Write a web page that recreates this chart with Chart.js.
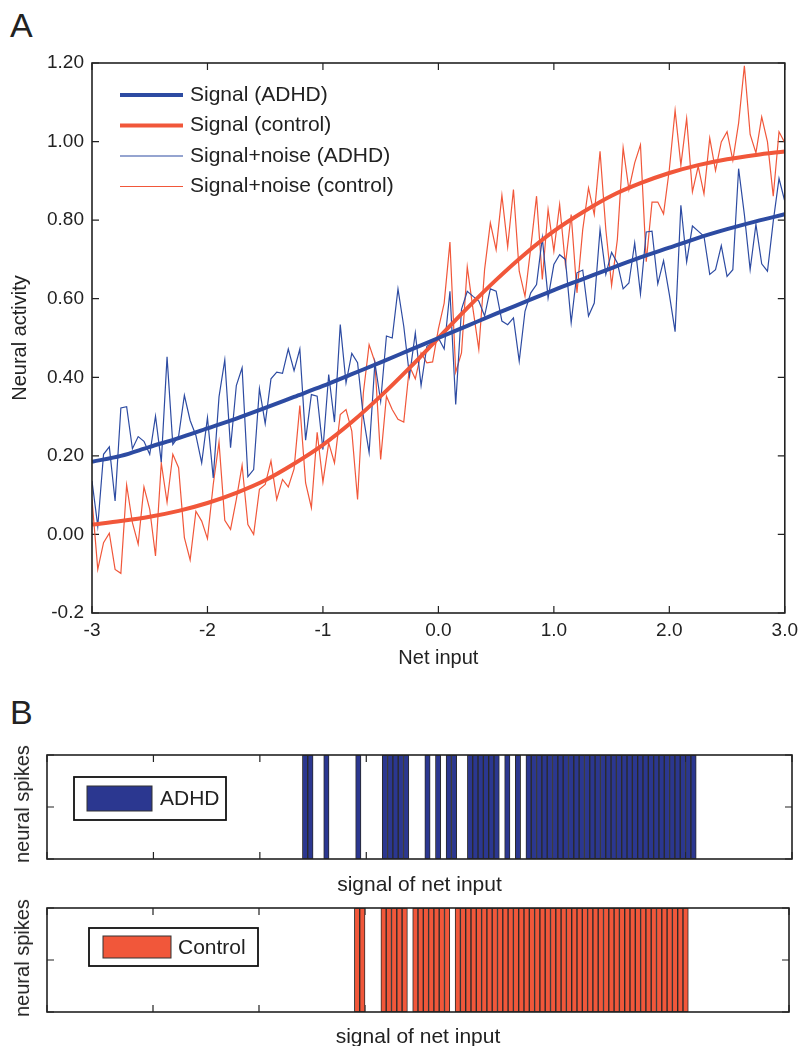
<!DOCTYPE html>
<html lang="en">
<head>
  <meta charset="UTF-8">
  <title>Neural activity and spikes</title>
  <script src="https://cdn.jsdelivr.net/npm/chart.js@4.4.1/dist/chart.umd.min.js"></script>
  <style>
    body {
      margin: 0;
      background: #fff;
      font-family: "Liberation Sans", Arial, sans-serif;
      color: #222;
    }
    .page {
      position: relative;
      width: 804px;
      height: 1046px;
      overflow: hidden;
    }
    .page canvas {
      position: absolute;
      left: 0;
    }
    .panel-label {
      position: absolute;
      left: 10px;
      font-size: 34px;
      line-height: 1;
    }
    .spike-label {
      position: absolute;
      left: 22px;
      font-size: 20px;
      line-height: 1;
      white-space: nowrap;
      transform: translate(-50%, -50%) rotate(-90deg);
    }
  </style>
</head>
<body>
  <div class="page">
    <div class="panel-label" style="top: 8px;">A</div>
    <div class="panel-label" style="top: 695px;">B</div>

    <canvas id="activity-chart" width="804" height="680" style="top: 0;"></canvas>

    <canvas id="adhd-spikes" width="804" height="160" style="top: 740px;"></canvas>
    <div class="spike-label" style="top: 804px;">neural spikes</div>

    <canvas id="control-spikes" width="804" height="155" style="top: 893px;"></canvas>
    <div class="spike-label" style="top: 958px;">neural spikes</div>
  </div>

  <script>
    // panel A: smooth signal, sampled every 0.25 from -3
    const SIGNAL_X_START = -3;
    const SIGNAL_X_STEP = 0.25;
    const SIGNAL_ADHD = [
      0.185, 0.200, 0.223, 0.245, 0.270, 0.295, 0.322, 0.350, 0.378, 0.408, 0.438, 0.469, 0.500,
      0.531, 0.562, 0.592, 0.622, 0.650, 0.678, 0.705, 0.730, 0.755, 0.777, 0.797, 0.815
    ];
    const SIGNAL_CONTROL = [
      0.025, 0.034, 0.045, 0.060, 0.080, 0.106, 0.138, 0.180, 0.228, 0.286, 0.352, 0.424, 0.500,
      0.576, 0.648, 0.714, 0.772, 0.820, 0.862, 0.894, 0.920, 0.940, 0.955, 0.966, 0.975
    ];

    // panel A: signal + noise, sampled every 0.05 from -3
    const NOISE_X_START = -3;
    const NOISE_X_STEP = 0.05;
    const NOISE_ADHD = [
      0.136, 0.021, 0.204, 0.223, 0.085, 0.322, 0.325, 0.218, 0.249, 0.237,
      0.204, 0.301, 0.184, 0.452, 0.229, 0.250, 0.354, 0.290, 0.252, 0.182,
      0.297, 0.144, 0.350, 0.444, 0.221, 0.379, 0.424, 0.147, 0.165, 0.371,
      0.282, 0.396, 0.413, 0.410, 0.472, 0.417, 0.472, 0.240, 0.356, 0.352,
      0.216, 0.407, 0.286, 0.534, 0.386, 0.461, 0.437, 0.300, 0.208, 0.437,
      0.339, 0.505, 0.500, 0.625, 0.530, 0.403, 0.513, 0.379, 0.479, 0.488,
      0.500, 0.472, 0.619, 0.331, 0.573, 0.619, 0.606, 0.594, 0.556, 0.625,
      0.619, 0.543, 0.534, 0.551, 0.441, 0.568, 0.615, 0.636, 0.755, 0.602,
      0.687, 0.712, 0.700, 0.539, 0.666, 0.673, 0.556, 0.589, 0.776, 0.662,
      0.718, 0.691, 0.625, 0.640, 0.742, 0.612, 0.770, 0.772, 0.638, 0.697,
      0.611, 0.516, 0.838, 0.694, 0.785, 0.772, 0.759, 0.662, 0.674, 0.735,
      0.657, 0.674, 0.931, 0.814, 0.674, 0.789, 0.689, 0.670, 0.797, 0.906,
      0.848
    ];
    const NOISE_CONTROL = [
      0.089, -0.089, -0.021, 0.003, -0.089, -0.099, 0.126, 0.030, -0.025, 0.121,
      0.064, -0.055, 0.182, 0.082, 0.204, 0.170, -0.008, -0.065, 0.059, 0.034,
      -0.011, 0.127, 0.235, 0.036, 0.013, 0.089, 0.176, 0.025, 0.000, 0.115,
      0.127, 0.187, 0.089, 0.140, 0.121, 0.167, 0.328, 0.131, 0.068, 0.260,
      0.133, 0.233, 0.182, 0.305, 0.318, 0.263, 0.089, 0.360, 0.483, 0.439,
      0.191, 0.352, 0.318, 0.293, 0.286, 0.428, 0.396, 0.462, 0.437, 0.439,
      0.523, 0.589, 0.744, 0.413, 0.462, 0.681, 0.573, 0.471, 0.674, 0.793,
      0.725, 0.863, 0.732, 0.878, 0.670, 0.606, 0.730, 0.861, 0.649, 0.827,
      0.721, 0.840, 0.687, 0.814, 0.615, 0.776, 0.882, 0.814, 0.975, 0.776,
      0.634, 0.751, 0.984, 0.878, 0.946, 0.992, 0.694, 0.846, 0.846, 0.816,
      0.929, 1.079, 0.940, 1.059, 0.872, 0.937, 0.867, 1.009, 0.926, 0.999,
      1.025, 0.952, 1.047, 1.193, 1.018, 0.971, 1.063, 0.999, 0.861, 1.025,
      0.997
    ];

    const SERIES_LABELS = ['Signal (ADHD)', 'Signal (control)', 'Signal+noise (ADHD)', 'Signal+noise (control)'];
    const X_TICK_LABELS = ['-3', '-2', '-1', '0.0', '1.0', '2.0', '3.0'];
    const Y_TICK_LABELS = ['-0.2', '0.00', '0.20', '0.40', '0.60', '0.80', '1.00', '1.20'];

    // panel B: spike bins (140 bins across the axis)
    const SPIKE_BIN_COUNT = 140;
    const ADHD_SPIKES = [
      48, 49, 52, 58, 63, 64, 65, 66, 67, 71, 73, 75, 76, 79, 80, 81, 82, 83, 84, 86, 88,
      90, 91, 92, 93, 94, 95, 96, 97, 98, 99, 100, 101, 102, 103, 104, 105,
      106, 107, 108, 109, 110, 111, 112, 113, 114, 115, 116, 117, 118, 119, 120, 121
    ];
    const CONTROL_SPIKES = [
      58, 59, 63, 64, 65, 66, 67, 69, 70, 71, 72, 73, 74, 75,
      77, 78, 79, 80, 81, 82, 83, 84, 85, 86, 87, 88, 89, 90, 91, 92, 93, 94, 95, 96, 97, 98,
      99, 100, 101, 102, 103, 104, 105, 106, 107, 108, 109, 110, 111, 112, 113, 114, 115, 116,
      117, 118, 119, 120
    ];

    const BLUE = '#2d4ba2';
    const RED = '#f1573a';
    const NAVY = '#2b3790';
    const INK = '#222';
    const FONT = '"Liberation Sans", Arial, sans-serif';

    Chart.defaults.font.family = FONT;
    Chart.defaults.color = INK;

    const toPoints = (values, start, step) => values.map((v, i) => ({ x: start + i * step, y: v }));
    const noGrid = { display: false, drawTicks: false, tickLength: 0 };

    // MATLAB-like box with inward ticks on all four sides
    const boxAxes = {
      id: 'boxAxes',
      beforeDatasetsDraw(chart, args, opts) {
        const { ctx, chartArea: a } = chart;
        const x = chart.scales.x;
        const y = chart.scales.y;
        const len = opts.tickLength;
        ctx.save();
        ctx.strokeStyle = INK;
        ctx.lineWidth = 1.2;
        ctx.beginPath();
        x.ticks.forEach((t, i) => {
          const px = x.getPixelForTick(i);
          ctx.moveTo(px, a.bottom);
          ctx.lineTo(px, a.bottom - len);
          ctx.moveTo(px, a.top);
          ctx.lineTo(px, a.top + len);
        });
        y.ticks.forEach((t, i) => {
          const py = y.getPixelForTick(i);
          ctx.moveTo(a.left, py);
          ctx.lineTo(a.left + len, py);
          ctx.moveTo(a.right, py);
          ctx.lineTo(a.right - len, py);
        });
        ctx.stroke();
        ctx.restore();
      },
      afterDatasetsDraw(chart) {
        const { ctx, chartArea: a } = chart;
        ctx.save();
        ctx.strokeStyle = INK;
        ctx.lineWidth = 1.6;
        ctx.strokeRect(a.left, a.top, a.right - a.left, a.bottom - a.top);
        ctx.restore();
      }
    };

    // legend drawn inside the plot area of panel A
    const lineLegend = {
      id: 'lineLegend',
      afterDatasetsDraw(chart, args, opts) {
        const { ctx, chartArea: a } = chart;
        ctx.save();
        ctx.font = `${opts.fontSize}px ${FONT}`;
        ctx.textBaseline = 'middle';
        ctx.textAlign = 'left';
        chart.data.datasets.forEach((ds, i) => {
          const y = a.top + opts.top + i * opts.rowHeight;
          const x0 = a.left + opts.left;
          ctx.strokeStyle = ds.borderColor;
          ctx.lineWidth = ds.borderWidth;
          ctx.beginPath();
          ctx.moveTo(x0, y);
          ctx.lineTo(x0 + opts.lineLength, y);
          ctx.stroke();
          ctx.fillStyle = INK;
          ctx.fillText(ds.label, x0 + opts.lineLength + opts.gap, y);
        });
        ctx.restore();
      }
    };

    // boxed legend for the spike panels
    const boxLegend = {
      id: 'boxLegend',
      afterDatasetsDraw(chart, args, opts) {
        const { ctx, chartArea: a } = chart;
        const ds = chart.data.datasets[0];
        const bx = a.left + opts.left;
        const by = a.top + opts.top;
        ctx.save();
        ctx.fillStyle = '#fff';
        ctx.fillRect(bx, by, opts.width, opts.height);
        ctx.strokeStyle = '#111';
        ctx.lineWidth = 1.8;
        ctx.strokeRect(bx, by, opts.width, opts.height);
        ctx.fillStyle = ds.backgroundColor;
        ctx.fillRect(bx + opts.swatchX, by + opts.swatchY, opts.swatchW, opts.swatchH);
        ctx.lineWidth = 1;
        ctx.strokeStyle = '#333';
        ctx.strokeRect(bx + opts.swatchX, by + opts.swatchY, opts.swatchW, opts.swatchH);
        ctx.fillStyle = INK;
        ctx.font = `21px ${FONT}`;
        ctx.textBaseline = 'middle';
        ctx.fillText(ds.label, bx + opts.textX, by + opts.height / 2 + 1);
        ctx.restore();
      }
    };

    new Chart(document.getElementById('activity-chart'), {
      type: 'line',
      data: {
        datasets: [
          {
            label: SERIES_LABELS[0],
            data: toPoints(SIGNAL_ADHD, SIGNAL_X_START, SIGNAL_X_STEP),
            borderColor: BLUE,
            borderWidth: 4,
            cubicInterpolationMode: 'monotone'
          },
          {
            label: SERIES_LABELS[1],
            data: toPoints(SIGNAL_CONTROL, SIGNAL_X_START, SIGNAL_X_STEP),
            borderColor: RED,
            borderWidth: 4,
            cubicInterpolationMode: 'monotone'
          },
          {
            label: SERIES_LABELS[2],
            data: toPoints(NOISE_ADHD, NOISE_X_START, NOISE_X_STEP),
            borderColor: BLUE,
            borderWidth: 1.2
          },
          {
            label: SERIES_LABELS[3],
            data: toPoints(NOISE_CONTROL, NOISE_X_START, NOISE_X_STEP),
            borderColor: RED,
            borderWidth: 1.2
          }
        ]
      },
      plugins: [boxAxes, lineLegend],
      options: {
        responsive: false,
        animation: false,
        elements: { point: { radius: 0 }, line: { tension: 0 } },
        layout: { padding: { top: 63, right: 14, left: 0, bottom: 0 } },
        plugins: {
          legend: { display: false },
          tooltip: { enabled: false },
          boxAxes: { tickLength: 7 },
          lineLegend: { top: 32, left: 28, rowHeight: 30.5, lineLength: 63, gap: 7, fontSize: 21 }
        },
        scales: {
          x: {
            type: 'linear',
            min: -3,
            max: 3,
            ticks: {
              stepSize: 1,
              padding: 6,
              maxRotation: 0,
              font: { size: 19 },
              callback: (v, i) => X_TICK_LABELS[i]
            },
            grid: noGrid,
            border: { display: false },
            title: {
              display: true,
              text: 'Net input',
              font: { size: 20, lineHeight: 1 },
              padding: { top: 0, bottom: 12 }
            },
            afterFit: (scale) => { scale.height = 67; }
          },
          y: {
            min: -0.2,
            max: 1.2,
            ticks: {
              stepSize: 0.2,
              padding: 8,
              font: { size: 19 },
              callback: (v, i) => Y_TICK_LABELS[i]
            },
            grid: noGrid,
            border: { display: false },
            title: {
              display: true,
              text: 'Neural activity',
              font: { size: 20, lineHeight: 1 },
              padding: { top: 10, bottom: 0 }
            },
            afterFit: (scale) => { scale.width = 92; }
          }
        }
      }
    });

    function spikeChart(canvasId, label, bins, fill, layout) {
      return new Chart(document.getElementById(canvasId), {
        type: 'bar',
        data: {
          datasets: [{
            label: label,
            data: bins.map(b => ({ x: b + 0.5, y: 1 })),
            backgroundColor: fill,
            borderColor: '#2a2a2a',
            borderWidth: 1,
            borderSkipped: false,
            barPercentage: 1,
            categoryPercentage: 1,
            grouped: false
          }]
        },
        plugins: [boxAxes, boxLegend],
        options: {
          responsive: false,
          animation: false,
          layout: { padding: layout.padding },
          plugins: {
            legend: { display: false },
            tooltip: { enabled: false },
            boxAxes: { tickLength: 7 },
            boxLegend: layout.legend
          },
          scales: {
            x: {
              type: 'linear',
              offset: false,
              min: 0,
              max: SPIKE_BIN_COUNT,
              ticks: { stepSize: 20, display: false },
              grid: { display: false, drawTicks: false, tickLength: 0, offset: false },
              border: { display: false },
              title: {
                display: true,
                text: 'signal of net input',
                font: { size: 21, lineHeight: 1 },
                padding: { top: 0, bottom: layout.titlePad }
              },
              afterFit: (scale) => { scale.height = layout.xHeight; }
            },
            y: {
              min: 0,
              max: 1,
              ticks: { stepSize: 0.5, display: false },
              grid: noGrid,
              border: { display: false },
              afterFit: (scale) => { scale.width = 47; }
            }
          }
        }
      });
    }

    spikeChart('adhd-spikes', 'ADHD', ADHD_SPIKES, NAVY, {
      padding: { top: 15, right: 12, left: 0, bottom: 0 },
      xHeight: 41,
      titlePad: 4,
      legend: { left: 27, top: 22, width: 152, height: 43, swatchX: 13, swatchY: 9, swatchW: 65, swatchH: 25, textX: 86 }
    });

    spikeChart('control-spikes', 'Control', CONTROL_SPIKES, RED, {
      padding: { top: 15, right: 15, left: 0, bottom: 0 },
      xHeight: 36,
      titlePad: 0,
      legend: { left: 42, top: 20, width: 169, height: 38, swatchX: 14, swatchY: 8, swatchW: 68, swatchH: 22, textX: 89 }
    });
  </script>
</body>
</html>
